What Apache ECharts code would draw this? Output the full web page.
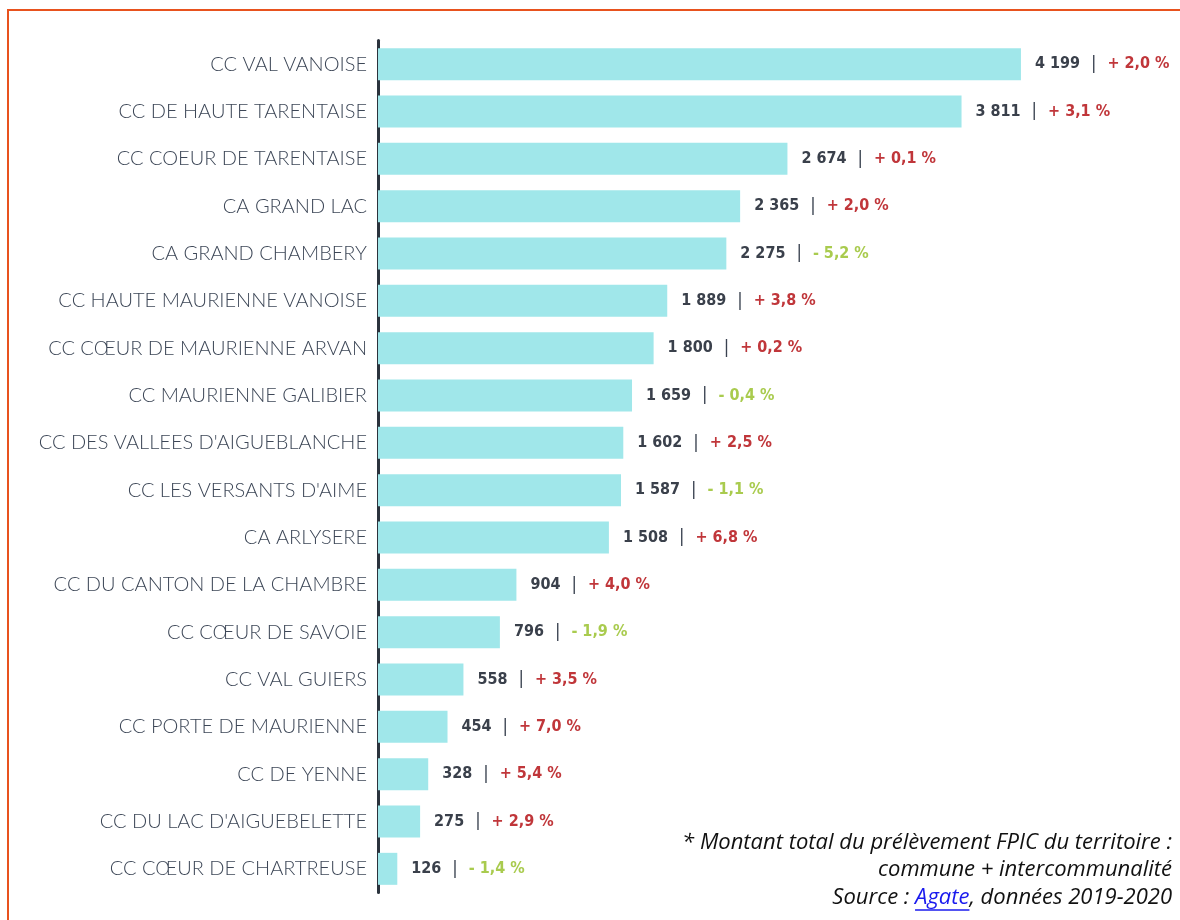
<!DOCTYPE html>
<html>
<head>
<meta charset="utf-8">
<script src="https://cdn.jsdelivr.net/npm/echarts@6/dist/echarts.min.js"></script>
<style>
html,body{margin:0;padding:0;background:#fff;}
#chart{width:1180px;height:920px;}
</style>
</head>
<body>
<div id="chart"></div>
<script>
const categories = [
  "CC VAL VANOISE",
  "CC DE HAUTE TARENTAISE",
  "CC COEUR DE TARENTAISE",
  "CA GRAND LAC",
  "CA GRAND CHAMBERY",
  "CC HAUTE MAURIENNE VANOISE",
  "CC CŒUR DE MAURIENNE ARVAN",
  "CC MAURIENNE GALIBIER",
  "CC DES VALLEES D'AIGUEBLANCHE",
  "CC LES VERSANTS D'AIME",
  "CA ARLYSERE",
  "CC DU CANTON DE LA CHAMBRE",
  "CC CŒUR DE SAVOIE",
  "CC VAL GUIERS",
  "CC PORTE DE MAURIENNE",
  "CC DE YENNE",
  "CC DU LAC D'AIGUEBELETTE",
  "CC CŒUR DE CHARTREUSE"
];
const values = [4199, 3811, 2674, 2365, 2275, 1889, 1800, 1659, 1602, 1587, 1508, 904, 796, 558, 454, 328, 275, 126];
const changes = [2.0, 3.1, 0.1, 2.0, -5.2, 3.8, 0.2, -0.4, 2.5, -1.1, 6.8, 4.0, -1.9, 3.5, 7.0, 5.4, 2.9, -1.4];
const footnoteLines = [
  "* Montant total du prélèvement FPIC du territoire :",
  "commune + intercommunalité"
];
const sourcePrefix = "Source : ";
const sourceLink = "Agate";
const sourceSuffix = ", données 2019-2020";

function fmtVal(v){ return String(v).replace(/\B(?=(\d{3})+(?!\d))/g, " "); }
function fmtPct(c){ return (c < 0 ? "- " : "+ ") + Math.abs(c).toFixed(1).replace(".", ",") + " %"; }

const FOOT_FONT = 'italic 22px "Open Sans", sans-serif';
const mctx = document.createElement('canvas').getContext('2d');
mctx.font = FOOT_FONT;
const suffixW = mctx.measureText(sourceSuffix).width;
const linkW = mctx.measureText(sourceLink).width;
const RIGHT_X = 1172;

const chart = echarts.init(document.getElementById('chart'));
const LBL = "'Liberation Sans Narrow','DejaVu Sans Condensed',sans-serif";
const option = {
  animation: false,
  backgroundColor: '#ffffff',
  grid: { left: 378, top: 40.5, width: 765.6, height: 852, containLabel: false },
  xAxis: { type: 'value', min: 0, max: 5000, show: false },
  yAxis: {
    type: 'category', data: categories, inverse: true,
    axisLine: { show: true, lineStyle: { color: '#2b333d', width: 3 } },
    axisTick: { show: false },
    axisLabel: { margin: 11, color: '#3d4757', fontFamily: 'Lato, sans-serif', fontWeight: 300, fontSize: 20 }
  },
  series: [{
    type: 'bar', barWidth: 32,
    data: values,
    itemStyle: { color: '#a0e7ea' },
    label: {
      show: true, position: 'right', distance: 14,
      formatter: p => '{v|' + fmtVal(p.value) + '}{s||}{' + (changes[p.dataIndex] < 0 ? 'n' : 'p') + '|' + fmtPct(changes[p.dataIndex]) + '}',
      rich: {
        v: { fontFamily: LBL, fontWeight: 'bold', fontSize: 16, color: '#3a404b' },
        s: { fontFamily: LBL, fontSize: 18, color: '#3a4250', padding: [0, 11, 0, 11] },
        p: { fontFamily: LBL, fontWeight: 'bold', fontSize: 16, color: '#c0363a' },
        n: { fontFamily: LBL, fontWeight: 'bold', fontSize: 16, color: '#a9cb4e' }
      }
    }
  }],
  graphic: [
    { type: 'rect', shape: { x: 8, y: 10, width: 1300, height: 1000 }, style: { fill: 'none', stroke: '#e8521e', lineWidth: 2 }, silent: true },
    { type: 'text', x: RIGHT_X, y: 843, style: { text: footnoteLines[0], font: FOOT_FONT, fill: '#111', align: 'right', verticalAlign: 'middle' } },
    { type: 'text', x: RIGHT_X, y: 870, style: { text: footnoteLines[1], font: FOOT_FONT, fill: '#111', align: 'right', verticalAlign: 'middle' } },
    { type: 'text', x: RIGHT_X, y: 898, style: {
        text: '{a|' + sourcePrefix + '}{b|' + sourceLink + '}{a|' + sourceSuffix + '}',
        align: 'right', verticalAlign: 'middle',
        rich: {
          a: { font: FOOT_FONT, fill: '#111' },
          b: { font: FOOT_FONT, fill: '#1a1aee' }
        }
      } },
    { type: 'line', shape: { x1: RIGHT_X - suffixW - linkW, y1: 910, x2: RIGHT_X - suffixW, y2: 910 }, style: { stroke: '#1a1aee', lineWidth: 1.3 }, silent: true }
  ]
};
chart.setOption(option);
</script>
</body>
</html>
